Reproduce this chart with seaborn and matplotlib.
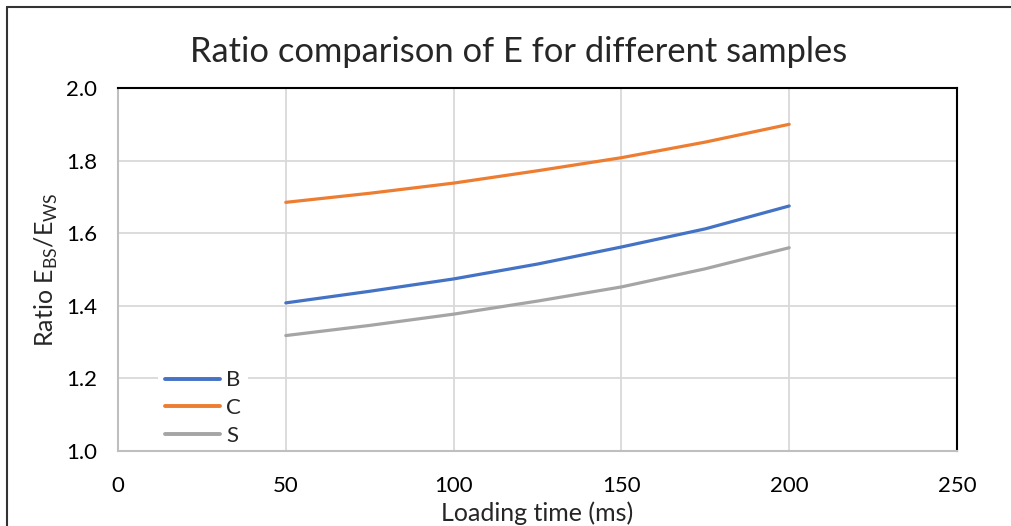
import matplotlib
matplotlib.use("Agg")
import matplotlib.pyplot as plt
from matplotlib.lines import Line2D
import seaborn as sns
import pandas as pd

loading_time = [50, 75, 100, 125, 150, 175, 200]
ratio_b = [1.408, 1.440, 1.474, 1.515, 1.562, 1.612, 1.675]
ratio_c = [1.685, 1.710, 1.738, 1.772, 1.808, 1.851, 1.900]
ratio_s = [1.318, 1.346, 1.377, 1.413, 1.452, 1.502, 1.560]
series_names = ["B", "C", "S"]
series_colors = ["#4472C4", "#ED7D31", "#A5A5A5"]

df = pd.DataFrame({
    "time": loading_time * 3,
    "ratio": ratio_b + ratio_c + ratio_s,
    "sample": [n for n in series_names for _ in loading_time],
})

sns.set_theme(style="white")
plt.rcParams["font.family"] = ["Lato", "DejaVu Sans"]
plt.rcParams["mathtext.fontset"] = "custom"
plt.rcParams["mathtext.rm"] = "Lato"

fig = plt.figure(figsize=(10.12, 5.26), dpi=100)
ax = fig.add_axes([118 / 1012, 1 - 451 / 526, (957 - 118) / 1012, (451 - 88) / 526])

sns.lineplot(data=df, x="time", y="ratio", hue="sample",
             palette=dict(zip(series_names, series_colors)),
             linewidth=2.3, ax=ax, legend=False, zorder=3)

ax.set_xlim(0, 250)
ax.set_ylim(1.0, 2.0)
ax.set_xticks(range(0, 251, 50))
ax.set_yticks([1.0, 1.2, 1.4, 1.6, 1.8, 2.0])
ax.set_yticklabels([f"{v:.1f}" for v in [1.0, 1.2, 1.4, 1.6, 1.8, 2.0]])
ax.grid(True, color="#D9D9D9", linewidth=1.3, zorder=0)
ax.set_axisbelow(True)
ax.tick_params(axis="both", length=0, labelsize=16, colors="#000000")
ax.tick_params(axis="x", pad=18)
ax.tick_params(axis="y", pad=15)

for side in ["left", "bottom"]:
    ax.spines[side].set_color("#BFBFBF")
    ax.spines[side].set_linewidth(1.5)
for side in ["top", "right"]:
    ax.spines[side].set_color("#000000")
    ax.spines[side].set_linewidth(1.5)

ax.set_xlabel("Loading time (ms)", fontsize=18, labelpad=4)
ax.set_ylabel(r"Ratio E$_{\mathregular{BS}}$/E$_{\mathregular{WS}}$", fontsize=18, labelpad=4)
fig.text(0.5125, 1 - 52 / 526, "Ratio comparison of E for different samples",
         ha="center", va="center", fontsize=24.8)

handles = [Line2D([], [], color=c, linewidth=2.8) for c in series_colors]
leg = ax.legend(handles, series_names, loc="lower left",
                bbox_to_anchor=(0.035, -0.035), frameon=True, fontsize=16,
                handlelength=2.45, handletextpad=0.3, labelspacing=0.35,
                borderpad=0.3)
leg.get_frame().set_facecolor("white")
leg.get_frame().set_edgecolor("none")
leg.get_frame().set_alpha(1.0)
leg.set_zorder(2)

# outer chart frame
fig.add_artist(Line2D([7 / 1012, 7 / 1012], [0, 1 - 7 / 526], transform=fig.transFigure,
                      color="#333333", linewidth=1.5))
fig.add_artist(Line2D([7 / 1012, 1], [1 - 7 / 526, 1 - 7 / 526], transform=fig.transFigure,
                      color="#333333", linewidth=1.5))

fig.savefig("out.png", dpi=100)
